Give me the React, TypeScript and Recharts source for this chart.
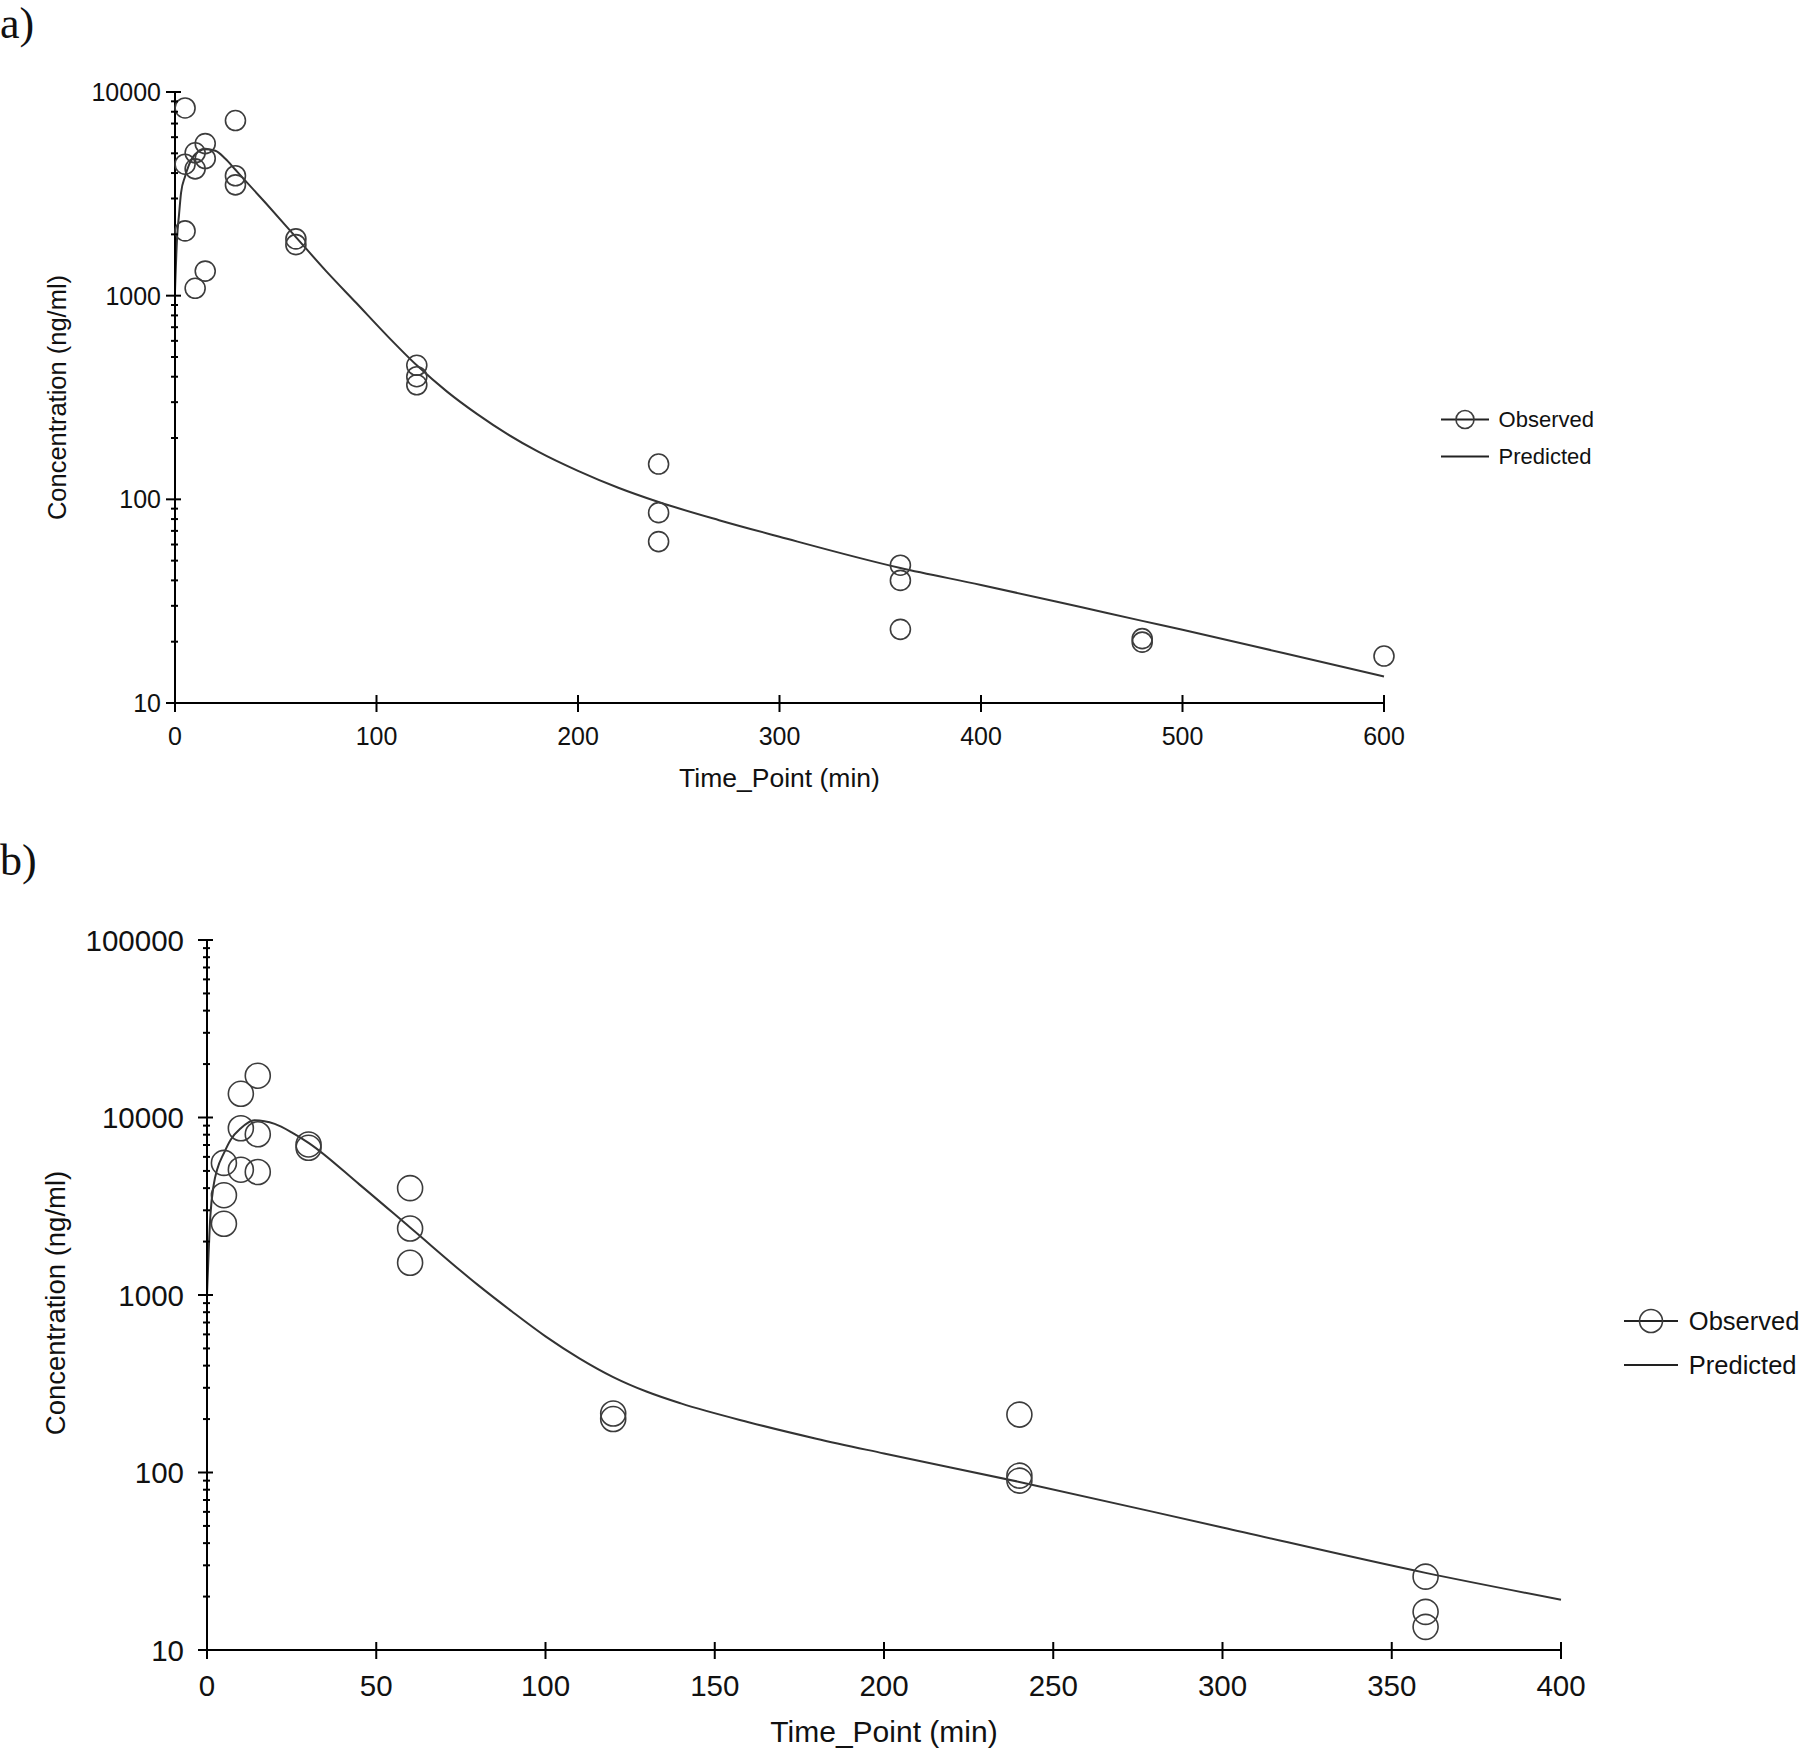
import { ComposedChart, Scatter, Line, XAxis, YAxis, Legend, Label } from 'recharts'

const FONT = '"Liberation Sans", Arial, Helvetica, sans-serif'
const INK = '#3c3c3c'

// panel a
const obsTimeA = [5, 5, 5, 10, 10, 10, 15, 15, 15, 30, 30, 30, 60, 60, 120, 120, 120, 240, 240, 240, 360, 360, 360, 480, 480, 600]
const obsConcA = [8350, 4420, 2080, 5030, 4195, 1087, 5580, 4715, 1320, 7240, 3880, 3500, 1900, 1780, 455, 400, 365, 149, 86, 62, 47.5, 40, 23, 20.7, 19.9, 17]
const predTimeA = [0, 1, 2, 3, 5, 7, 10, 15, 20, 25, 30, 45, 60, 75, 90, 105, 120, 135, 150, 165, 180, 200, 220, 240, 270, 300, 360, 400, 450, 480, 500, 550, 600]
const predConcA = [1050, 1900, 2500, 3200, 3850, 4400, 4950, 5230, 5150, 4700, 4150, 2850, 1940, 1320, 920, 640, 455, 338, 262, 209, 172, 138, 114, 97, 79, 65.5, 46, 38, 29.5, 25.3, 22.9, 17.6, 13.5]
const xTicksA = [0, 100, 200, 300, 400, 500, 600]
const decadesA = [10, 100, 1000, 10000]

// panel b
const obsTimeB = [5, 5, 5, 10, 10, 10, 15, 15, 15, 30, 30, 60, 60, 60, 120, 120, 240, 240, 240, 360, 360, 360]
const obsConcB = [5550, 3650, 2520, 13600, 8700, 5080, 17200, 8050, 4930, 7050, 6750, 4000, 2370, 1520, 215, 200, 212, 96, 90, 25.9, 16.4, 13.5]
const predTimeB = [0, 1, 2, 3, 5, 7, 10, 14, 20, 25, 30, 45, 60, 80, 90, 100, 110, 120, 130, 140, 160, 180, 200, 240, 300, 360, 400]
const predConcB = [1000, 2800, 4200, 5100, 6300, 7500, 8700, 9650, 9200, 8250, 7200, 4200, 2400, 1140, 810, 585, 440, 345, 285, 245, 192, 155, 128, 88.5, 49, 27.2, 19.2]
const xTicksB = [0, 50, 100, 150, 200, 250, 300, 350, 400]
const decadesB = [10, 100, 1000, 10000, 100000]

const toPoints = (ts: number[], cs: number[]) => ts.map((t, i) => ({ t, c: cs[i] }))

// 10, 20, ... 90, 100, 200 ... up to the last decade
const logTicks = (decades: number[]) => {
  const out: number[] = []
  decades.forEach((d, i) => {
    if (i === decades.length - 1) {
      out.push(d)
      return
    }
    for (let k = 1; k < 10; k++) out.push(d * k)
  })
  return out
}

const isMajor = (v: number) => {
  const l = Math.log10(v)
  return Math.abs(l - Math.round(l)) < 1e-9
}

interface PanelProps {
  top: number
  height: number
  margin: { top: number; right: number; bottom: number; left: number }
  obs: { t: number; c: number }[]
  pred: { t: number; c: number }[]
  xTicks: number[]
  decades: number[]
  tickFont: number
  xTitleFont: number
  yTitleFont: number
  legendFont: number
  r: number
  yLabelGap: number
  xLabelDy: number
  yTitleX: number
  yTitleShift: number
  xTitleDy: number
  legendX: number
  legendY: number
  legendRow: number
  legendIcon: number
}

function Panel(p: PanelProps) {
  const width = 1800
  const plotLeft = p.margin.left + 100
  const plotRight = width - p.margin.right
  const plotTop = p.margin.top
  const plotBottom = p.height - p.margin.bottom - 80
  const yTicks = logTicks(p.decades)

  const yTick = (props: any) => {
    const { x, y, payload } = props
    const major = isMajor(payload.value)
    return (
      <g>
        <line x1={x - (major ? 9 : 4)} x2={x + (major ? 6 : 3)} y1={y} y2={y} stroke="#000" strokeWidth={2} />
        {major && (
          <text x={x - p.yLabelGap} y={y} textAnchor="end" dominantBaseline="central" fontSize={p.tickFont} fontFamily={FONT} fill="#111">
            {payload.value}
          </text>
        )}
      </g>
    )
  }

  const xTick = (props: any) => {
    const { x, y, payload } = props
    return (
      <g>
        <line x1={x} x2={x} y1={y - 8} y2={y + 9} stroke="#000" strokeWidth={2} />
        <text x={x} y={y + p.xLabelDy} textAnchor="middle" dominantBaseline="central" fontSize={p.tickFont} fontFamily={FONT} fill="#111">
          {payload.value}
        </text>
      </g>
    )
  }

  const legend = () => (
    <div style={{ fontFamily: FONT, fontSize: p.legendFont, color: '#111' }}>
      {['Observed', 'Predicted'].map((name) => (
        <div key={name} style={{ display: 'flex', alignItems: 'center', height: p.legendRow }}>
          <svg width={p.legendIcon} height={p.legendRow} style={{ marginRight: p.legendIcon * 0.2 }}>
            <line x1={0} x2={p.legendIcon} y1={p.legendRow / 2} y2={p.legendRow / 2} stroke="#222" strokeWidth={2} />
            {name === 'Observed' && (
              <circle cx={p.legendIcon / 2} cy={p.legendRow / 2} r={p.r - 1} fill="none" stroke={INK} strokeWidth={1.6} />
            )}
          </svg>
          <span>{name}</span>
        </div>
      ))}
    </div>
  )

  return (
    <div style={{ position: 'absolute', left: 0, top: p.top }}>
      <ComposedChart width={width} height={p.height} margin={p.margin}>
        <XAxis
          type="number"
          dataKey="t"
          domain={[p.xTicks[0], p.xTicks[p.xTicks.length - 1]]}
          ticks={p.xTicks}
          interval={0}
          height={80}
          tickSize={0}
          tickMargin={0}
          tickLine={false}
          tick={xTick}
          axisLine={{ stroke: '#000', strokeWidth: 2 }}
        >
          <Label
            content={() => (
              <text x={(plotLeft + plotRight) / 2} y={plotBottom + p.xTitleDy} textAnchor="middle" dominantBaseline="central" fontSize={p.xTitleFont} fontFamily={FONT} fill="#111">
                Time_Point (min)
              </text>
            )}
          />
        </XAxis>
        <YAxis
          type="number"
          dataKey="c"
          scale="log"
          domain={[p.decades[0], p.decades[p.decades.length - 1]]}
          ticks={yTicks}
          interval={0}
          width={100}
          tickSize={0}
          tickMargin={0}
          tickLine={false}
          tick={yTick}
          axisLine={{ stroke: '#000', strokeWidth: 2 }}
        >
          <Label
            content={() => {
              const cy = (plotTop + plotBottom) / 2 + p.yTitleShift
              return (
                <text x={p.yTitleX} y={cy} transform={`rotate(-90 ${p.yTitleX} ${cy})`} textAnchor="middle" dominantBaseline="central" fontSize={p.yTitleFont} fontFamily={FONT} fill="#111">
                  Concentration (ng/ml)
                </text>
              )
            }}
          />
        </YAxis>
        <Legend
          layout="vertical"
          align="center"
          verticalAlign="middle"
          wrapperStyle={{ left: p.legendX, top: p.legendY, width: 200, height: p.legendRow * 2 }}
          content={legend}
        />
        <Line
          data={p.pred}
          dataKey="c"
          type="monotone"
          stroke="#333"
          strokeWidth={2}
          dot={false}
          activeDot={false}
          isAnimationActive={false}
          legendType="none"
        />
        <Scatter
          data={p.obs}
          dataKey="c"
          isAnimationActive={false}
          shape={(s: any) => <circle cx={s.cx} cy={s.cy} r={p.r} fill="none" stroke={INK} strokeWidth={1.6} />}
        />
      </ComposedChart>
    </div>
  )
}

export default function App() {
  const serif = '"Liberation Serif", "Times New Roman", serif'
  return (
    <div style={{ position: 'absolute', left: 0, top: 0, width: 1800, height: 1752, background: '#fff', overflow: 'hidden' }}>
      <div style={{ position: 'absolute', left: 0, top: -1, fontFamily: serif, fontSize: 44, lineHeight: '50px', color: '#111' }}>
        a)
      </div>
      <div style={{ position: 'absolute', left: 0, top: 836, fontFamily: serif, fontSize: 44, lineHeight: '50px', color: '#111' }}>
        b)
      </div>
      <Panel
        top={0}
        height={820}
        margin={{ top: 92, right: 416, bottom: 37, left: 75 }}
        obs={toPoints(obsTimeA, obsConcA)}
        pred={toPoints(predTimeA, predConcA)}
        xTicks={xTicksA}
        decades={decadesA}
        tickFont={25}
        xTitleFont={26.5}
        yTitleFont={25.5}
        legendFont={22}
        r={10}
        yLabelGap={14}
        xLabelDy={33}
        yTitleX={57}
        yTitleShift={0}
        xTitleDy={75}
        legendX={1441}
        legendY={401}
        legendRow={37}
        legendIcon={48}
      />
      <Panel
        top={840}
        height={912}
        margin={{ top: 100, right: 239, bottom: 22, left: 107 }}
        obs={toPoints(obsTimeB, obsConcB)}
        pred={toPoints(predTimeB, predConcB)}
        xTicks={xTicksB}
        decades={decadesB}
        tickFont={29.5}
        xTitleFont={30}
        yTitleFont={27.5}
        legendFont={25.5}
        r={12.5}
        yLabelGap={23}
        xLabelDy={35}
        yTitleX={55}
        yTitleShift={8}
        xTitleDy={81}
        legendX={1624}
        legendY={459}
        legendRow={44}
        legendIcon={54}
      />
    </div>
  )
}
